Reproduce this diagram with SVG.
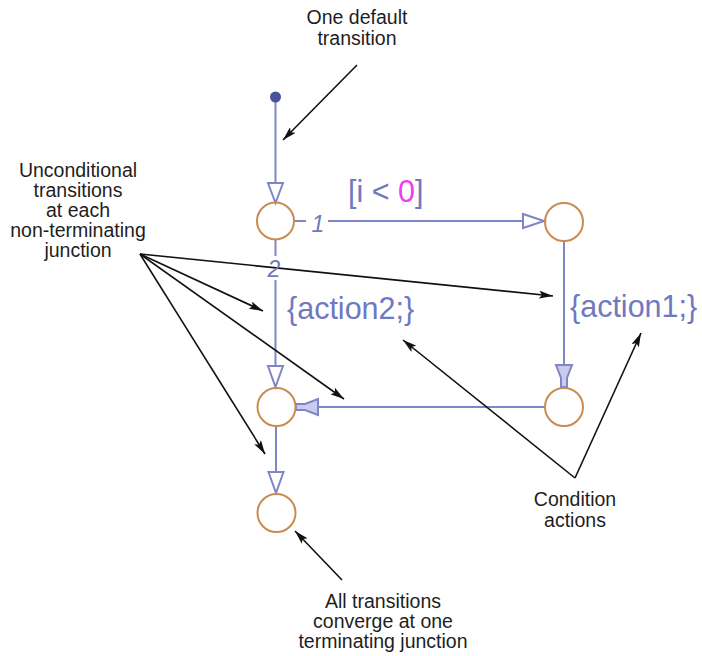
<svg xmlns="http://www.w3.org/2000/svg" width="702" height="656" viewBox="0 0 702 656">
<defs>
<style>
.lbl{font-family:"Liberation Sans",Arial,sans-serif;font-size:19.5px;fill:#1e1e1e;text-anchor:middle}
.big{font-family:"Liberation Sans",Arial,sans-serif;font-size:30.5px;fill:#7078c0}
.num{font-family:"Liberation Sans",Arial,sans-serif;font-size:23px;fill:#7078c0;font-style:italic;text-anchor:middle}
.jn{fill:none;stroke:#c98c50;stroke-width:2}
.tr{fill:none;stroke:#7e86c6;stroke-width:2}
.oh{fill:#ffffff;stroke:#7e86c6;stroke-width:2;stroke-linejoin:miter}
.fh{fill:#c9cceb;stroke:#7e86c6;stroke-width:2;stroke-linejoin:miter}
.an{fill:none;stroke:#111;stroke-width:1.6}
</style>
<marker id="ah" viewBox="0 0 14 8" refX="14" refY="4" markerWidth="14" markerHeight="8" markerUnits="userSpaceOnUse" orient="auto">
<path d="M0,0 L14,4 L0,8 L3,4 z" fill="#111"/>
</marker>
</defs>

<g id="connectors">
<!-- default transition -->
<line class="tr" x1="275.5" y1="97" x2="275.5" y2="183"/>
<polygon class="oh" points="268,183 283,183 275.5,203"/>
<!-- J1 to J2 -->
<line class="tr" x1="294" y1="221" x2="306" y2="221"/>
<line class="tr" x1="328" y1="221" x2="523" y2="221"/>
<polygon class="oh" points="523,214 523,228 544,221"/>
<!-- J1 to J3 -->
<line class="tr" x1="275.5" y1="240" x2="275.5" y2="256"/>
<line class="tr" x1="275.5" y1="280" x2="275.5" y2="366"/>
<polygon class="oh" points="268,366 283,366 275.5,387"/>
<!-- J2 to J4 -->
<line class="tr" x1="564" y1="241" x2="564" y2="365"/>
<polygon class="fh" points="556,365 572,365 567,378 567,387 561,387 561,378"/>
<!-- J4 to J3 -->
<line class="tr" x1="545" y1="407" x2="318" y2="407"/>
<polygon class="fh" points="318,399 318,415 305,410 296,410 296,404 305,404"/>
<!-- J3 to J5 -->
<line class="tr" x1="276" y1="426" x2="276" y2="472"/>
<polygon class="oh" points="268.5,472 283.5,472 276,493"/>

<!-- annotation arrows -->
<line class="an" x1="357" y1="65" x2="283" y2="140" marker-end="url(#ah)"/>
<line class="an" x1="140" y1="254" x2="553" y2="296" marker-end="url(#ah)"/>
<line class="an" x1="140" y1="254" x2="263" y2="311" marker-end="url(#ah)"/>
<line class="an" x1="140" y1="254" x2="344" y2="399" marker-end="url(#ah)"/>
<line class="an" x1="140" y1="254" x2="265" y2="454" marker-end="url(#ah)"/>
<line class="an" x1="575" y1="478" x2="403" y2="340" marker-end="url(#ah)"/>
<line class="an" x1="575" y1="478" x2="641" y2="333" marker-end="url(#ah)"/>
<line class="an" x1="342" y1="580" x2="295" y2="531" marker-end="url(#ah)"/>
</g>

<g id="default-dot"><circle cx="275.5" cy="97" r="5.5" fill="#4a529e"/></g>
<g id="J1"><circle class="jn" cx="275.5" cy="221" r="18.5"/></g>
<g id="J2"><circle class="jn" cx="564" cy="222" r="19"/></g>
<g id="J3"><circle class="jn" cx="276.5" cy="407" r="19"/></g>
<g id="J4"><circle class="jn" cx="564" cy="407" r="19"/></g>
<g id="J5"><circle class="jn" cx="276.5" cy="513" r="19"/></g>

<g id="labels">
<text class="num" x="318" y="232">1</text>
<text class="num" x="274" y="277">2</text>
<text class="big" x="348" y="202">[i &lt; <tspan fill="#f03cf0">0</tspan>]</text>
<text class="big" x="287" y="319">{action2;}</text>
<text class="big" x="570" y="317">{action1;}</text>
</g>

<g id="note-default">
<text class="lbl" x="357" y="24">One default</text>
<text class="lbl" x="357" y="45">transition</text>
</g>
<g id="note-unconditional">
<text class="lbl" x="78" y="177">Unconditional</text>
<text class="lbl" x="78" y="197">transitions</text>
<text class="lbl" x="78" y="217">at each</text>
<text class="lbl" x="78" y="237">non-terminating</text>
<text class="lbl" x="78" y="257">junction</text>
</g>
<g id="note-condition">
<text class="lbl" x="575" y="506">Condition</text>
<text class="lbl" x="575" y="527">actions</text>
</g>
<g id="note-converge">
<text class="lbl" x="383" y="608">All transitions</text>
<text class="lbl" x="383" y="628">converge at one</text>
<text class="lbl" x="383" y="648">terminating junction</text>
</g>
</svg>
